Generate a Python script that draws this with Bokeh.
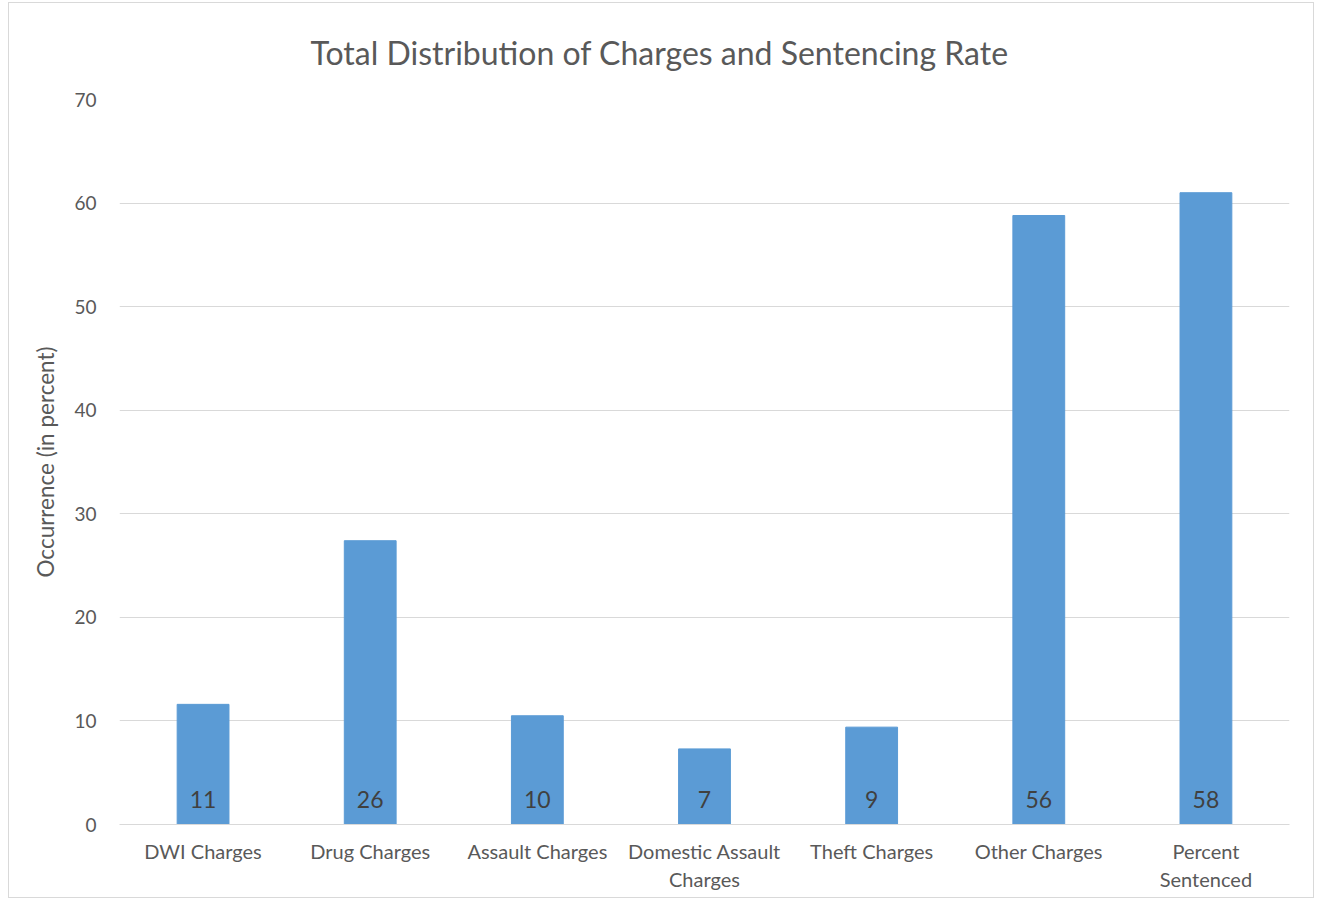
from bokeh.plotting import figure
from bokeh.models import ColumnDataSource, LabelSet, FactorRange, Range1d, SingleIntervalTicker
from bokeh.core.properties import value
from bokeh.embed import file_html
from bokeh.resources import INLINE

categories = ["DWI Charges", "Drug Charges", "Assault Charges",
              "Domestic Assault\nCharges", "Theft Charges", "Other Charges",
              "Percent\nSentenced"]
bar_heights = [11.6, 27.4, 10.5, 7.3, 9.4, 58.8, 61.0]
data_labels = ["11", "26", "10", "7", "9", "56", "58"]
title_text = "Total Distribution of Charges and Sentencing Rate"

FONT = "Lato"
GRAY = "#595959"

src = ColumnDataSource(dict(cat=categories, h=bar_heights, lab=data_labels,
                            base=[0] * len(categories)))

p = figure(width=1306, height=896, x_range=FactorRange(*categories),
           y_range=Range1d(0, 70), output_backend="svg", toolbar_location=None,
           title=title_text,
           min_border_left=110, min_border_right=26, min_border_top=96,
           min_border_bottom=75)

p.styles = {"border": "1px solid #d9d9d9", "margin-left": "8px", "margin-top": "2px"}
p.outline_line_color = None
p.background_fill_color = "white"
p.border_fill_color = "white"

p.title.align = "left"
p.title.offset = 191
p.title.standoff = 55
p.title.text_font = FONT
p.title.text_font_size = "32px"
p.title.text_font_style = "normal"
p.title.text_color = GRAY

p.vbar(x="cat", top="h", width=0.31, source=src, fill_color="#5B9BD5",
       line_color="#5B9BD5")

labels = LabelSet(x="cat", y="base", text="lab", source=src, y_offset=17,
                  text_align="center", text_baseline="alphabetic",
                  text_font=value(FONT), text_font_size="23px",
                  text_color="#404040")
p.add_layout(labels)

p.yaxis.ticker = SingleIntervalTicker(interval=10)
p.yaxis.axis_line_color = None
p.yaxis.major_tick_line_color = None
p.yaxis.minor_tick_line_color = None
p.yaxis.major_label_text_font = FONT
p.yaxis.major_label_text_font_size = "19px"
p.yaxis.major_label_text_color = GRAY
p.yaxis.major_label_standoff = 17
p.yaxis.axis_label = "Occurrence (in percent)"
p.yaxis.axis_label_text_font = FONT
p.yaxis.axis_label_text_font_size = "22.5px"
p.yaxis.axis_label_text_font_style = "normal"
p.yaxis.axis_label_text_color = GRAY
p.yaxis.axis_label_standoff = 12

p.xaxis.axis_line_color = "#d9d9d9"
p.xaxis.major_tick_line_color = None
p.xaxis.minor_tick_line_color = None
p.xaxis.major_label_text_font = FONT
p.xaxis.major_label_text_font_size = "20px"
p.xaxis.major_label_text_color = GRAY
p.xaxis.major_label_standoff = 8
p.xaxis.major_label_text_line_height = 1.18

p.xgrid.grid_line_color = None
p.ygrid.grid_line_color = "#d9d9d9"
p.ygrid.grid_line_width = 1

open("out.html", "w").write(file_html(p, INLINE))
